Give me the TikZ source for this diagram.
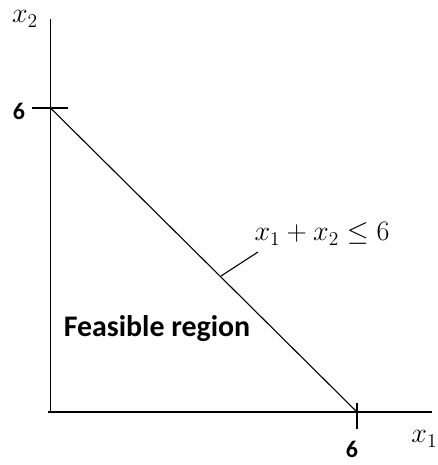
\documentclass[tikz,border=0pt]{standalone}
\usepackage{fontspec}
\usepackage{graphicx}
\newfontfamily\carlito{Carlito}
\newcommand{\bigmath}[1]{\scalebox{1.36}{$#1$}}
\begin{document}
\begin{tikzpicture}[x=1bp,y=-1bp,
  axisline/.style={line width=1.6bp,black},
  thinline/.style={line width=1.1bp,black},
  boldlbl/.style={font=\carlito\bfseries\fontsize{24}{26}\selectfont,inner sep=0pt},
  mathlbl/.style={font=\fontsize{20.74}{22}\selectfont,inner sep=0pt}]
\useasboundingbox (0,0) rectangle (438,465);
\coordinate (O) at (50.5,412);
\coordinate (ytop) at (50.5,19);
\coordinate (xend) at (432,412);
\coordinate (xstart) at (48,412);
\coordinate (A) at (50.5,108);
\coordinate (B) at (357,412);
\coordinate (ytl) at (32,108);
\coordinate (ytr) at (68,108);
\coordinate (xtt) at (357,403);
\coordinate (xtb) at (357,429);
\coordinate (L1) at (221,276);
\coordinate (L2) at (258,252);
\draw[axisline] (O) -- (ytop);
\draw[axisline] (xstart) -- (xend);
\draw[axisline] (ytl) -- (ytr);
\draw[axisline] (xtt) -- (xtb);
\draw[thinline] (A) -- (B);
\draw[thinline] (L1) -- (L2);
\node[boldlbl] (six1) at (19,111) {6};
\node[boldlbl] (six2) at (352,449) {6};
\node[mathlbl] (x2) at (25,19) {\bigmath{x_2}};
\node[mathlbl,anchor=east] (x1) at (437.5,439) {\bigmath{x_1}};
\node[mathlbl] (cons) at (322,234) {\bigmath{x_1+x_2\leq 6}};
\node[font=\carlito\bfseries\fontsize{30}{32}\selectfont,inner sep=0pt] (feas) at (157,329) {Feasible region};
\end{tikzpicture}
\end{document}
